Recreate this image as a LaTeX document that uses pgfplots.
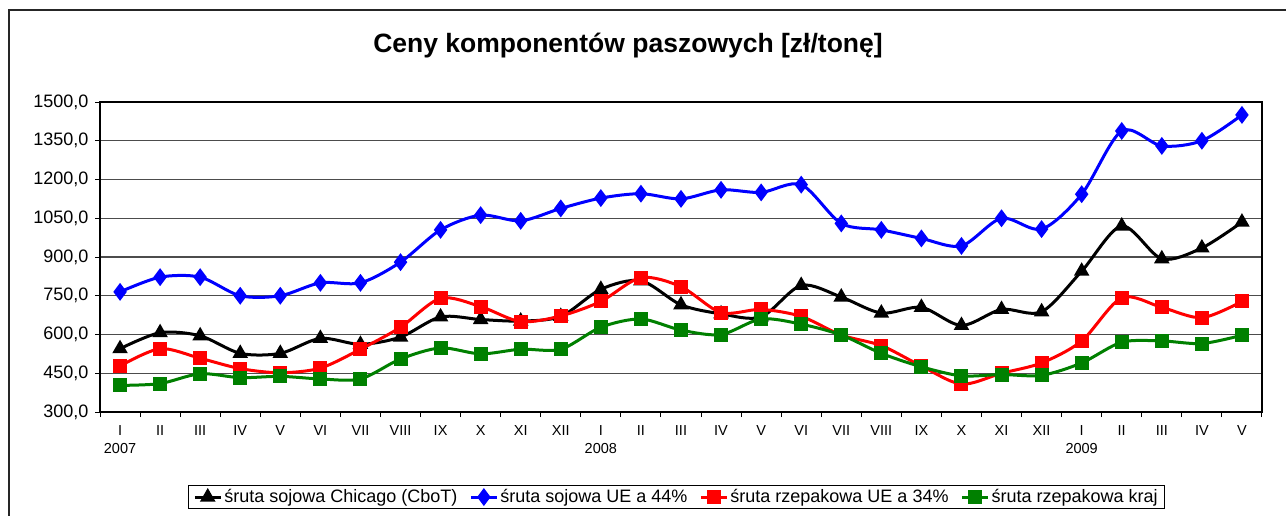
\documentclass[border=0pt]{standalone}
\usepackage{pgfplots}
\pgfplotsset{compat=1.18}
\usepackage{fontspec}
\setmainfont{Liberation Sans}
\definecolor{cblue}{RGB}{0,0,255}
\definecolor{cred}{RGB}{255,0,0}
\definecolor{cgreen}{RGB}{0,128,0}
\begin{document}
\begin{tikzpicture}[x=1pt,y=1pt]
\useasboundingbox (0,0) rectangle (1286,515);
\fill[white] (0,0) rectangle (1286,515);
\draw[line width=1.3pt, black!85] (9,-5) -- (9,505) -- (1295,505);
\node[anchor=base, font=\fontsize{26.5}{30}\selectfont\bfseries] at (628,462) {Ceny komponentów paszowych [zł/tonę]};
\begin{axis}[
  at={(100pt,103pt)}, anchor=south west,
  width=1162pt, height=310pt, scale only axis,
  xmin=-0.5, xmax=28.5, ymin=300, ymax=1500,
  ytick={300,450,...,1500},
  xtick={0,...,28},
  minor xtick={-0.5,0.5,...,28.5},
  xticklabels={{I\\2007},II,III,IV,V,VI,VII,VIII,IX,X,XI,XII,{I\\2008},II,III,IV,V,VI,VII,VIII,IX,X,XI,XII,{I\\2009},II,III,IV,V},
  tick align=outside,
  major tick length=5pt, minor tick length=5pt,
  major x tick style={draw=none},
  xtick pos=bottom, ytick pos=left,
  axis line style={black, line width=1.2pt},
  tick style={black, line width=1pt},
  ymajorgrids, major grid style={black!70, line width=1.2pt},
  xticklabel style={align=center, font=\fontsize{14.5}{18}\selectfont, yshift=-5pt},
  yticklabel style={font=\fontsize{18}{20}\selectfont, xshift=-3pt,
    /pgf/number format/.cd, fixed, fixed zerofill, precision=1, use comma, 1000 sep={}, assume math mode=true},
  every axis plot/.append style={line width=3pt, smooth, tension=0.5},
  legend columns=4,
  legend style={at={(0.4961,-0.236)}, anchor=north, draw=black, line width=1pt,
    font=\fontsize{18}{21}\selectfont, inner xsep=5pt, inner ysep=2pt,
    /tikz/every even column/.append style={column sep=10pt}},
  legend image code/.code={\draw[mark repeat=2, mark phase=2, #1] plot coordinates {(0pt,0pt) (13pt,0pt) (26pt,0pt)};},
]
\addplot[black, mark=triangle*, mark size=6pt, mark options={solid}] coordinates {
(0,545)(1,607)(2,595)(3,527)(4,527)(5,585)(6,562)(7,590)(8,668)(9,658)(10,652)(11,670)(12,775)(13,808)(14,715)(15,680)(16,668)(17,790)(18,745)(19,683)(20,705)(21,635)(22,697)(23,688)(24,845)(25,1020)(26,893)(27,935)(28,1035)};
\addlegendentry{śruta sojowa Chicago (CboT)}
\addplot[cblue, mark=diamond*, mark size=6.5pt, mark options={solid}] coordinates {
(0,765)(1,822)(2,822)(3,750)(4,750)(5,800)(6,800)(7,880)(8,1005)(9,1062)(10,1040)(11,1088)(12,1128)(13,1145)(14,1125)(15,1160)(16,1150)(17,1180)(18,1030)(19,1005)(20,972)(21,943)(22,1050)(23,1008)(24,1143)(25,1388)(26,1330)(27,1350)(28,1450)};
\addlegendentry{śruta sojowa UE a 44\%}
\addplot[cred, mark=square*, mark size=5.5pt, mark options={solid}] coordinates {
(0,478)(1,545)(2,508)(3,468)(4,452)(5,470)(6,543)(7,628)(8,740)(9,708)(10,650)(11,672)(12,728)(13,820)(14,785)(15,685)(16,697)(17,670)(18,598)(19,557)(20,478)(21,408)(22,450)(23,490)(24,575)(25,742)(26,705)(27,665)(28,728)};
\addlegendentry{śruta rzepakowa UE a 34\%}
\addplot[cgreen, mark=square*, mark size=5.5pt, mark options={solid}] coordinates {
(0,403)(1,410)(2,448)(3,433)(4,438)(5,428)(6,428)(7,505)(8,548)(9,525)(10,543)(11,543)(12,628)(13,660)(14,617)(15,600)(16,660)(17,640)(18,598)(19,527)(20,475)(21,440)(22,445)(23,442)(24,490)(25,570)(26,575)(27,565)(28,597)};
\addlegendentry{śruta rzepakowa kraj}
\end{axis}
\end{tikzpicture}
\end{document}
